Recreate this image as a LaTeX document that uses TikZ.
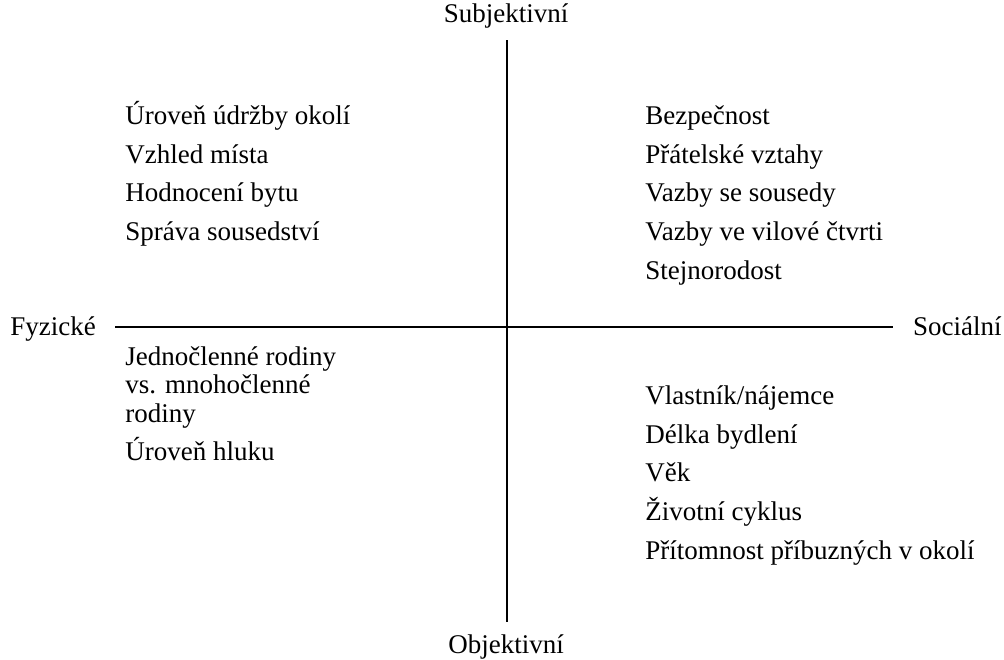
\documentclass[tikz,border=0pt]{standalone}
\usepackage{fontspec}
\setmainfont{Liberation Serif}
\usepackage{tikz}

\begin{document}
\begin{tikzpicture}[x=0.5pt, y=-0.5pt, item/.style={anchor=base west, inner sep=0pt}, axis/.style={line width=1.1pt}]
            \useasboundingbox (0,0) rectangle (1004,659);
            \fontsize{13.5}{14.3}\selectfont

            % Axes
            \node[anchor=base, inner sep=0pt] (subj) at (506, 22) {Subjektivní};
            \node[anchor=base, inner sep=0pt] (obj) at (506, 653) {Objektivní};
            \node[anchor=base west, inner sep=0pt] (fyz) at (10, 335) {Fyzické};
            \node[anchor=base east, inner sep=0pt] (soc) at (1002, 335) {Sociální};
            \coordinate (top) at (507, 40);
            \coordinate (bottom) at (507, 622);
            \coordinate (left) at (115, 327);
            \coordinate (right) at (893, 327);
            \draw[axis] (top) -- (bottom);
            \draw[axis] (left) -- (right);

            % Upper left
            \node[item] (tl-1) at (125, 124) {Úroveň údržby okolí};
            \node[item] (tl-2) at (125, 163) {Vzhled místa};
            \node[item] (tl-3) at (125, 201) {Hodnocení bytu};
            \node[item] (tl-4) at (125, 240) {Správa sousedství};

            % Upper right
            \node[item] (tr-1) at (645, 124) {Bezpečnost};
            \node[item] (tr-2) at (645, 163) {Přátelské vztahy};
            \node[item] (tr-3) at (645, 201) {Vazby se sousedy};
            \node[item] (tr-4) at (645, 240) {Vazby ve vilové čtvrti};
            \node[item] (tr-5) at (645, 279) {Stejnorodost};

            % Lower left
            \node[inner sep=0pt, anchor=north west, align=left] (bl-1) at (125, 346) {Jednočlenné rodiny\\vs. mnohočlenné\\rodiny};
            \node[item] (bl-2) at (125, 460) {Úroveň hluku};

            % Lower right
            \node[item] (br-1) at (645, 404) {Vlastník/nájemce};
            \node[item] (br-2) at (645, 443) {Délka bydlení};
            \node[item] (br-3) at (645, 481) {Věk};
            \node[item] (br-4) at (645, 520) {Životní cyklus};
            \node[item] (br-5) at (645, 559) {Přítomnost příbuzných v okolí};
\end{tikzpicture}
\end{document}
